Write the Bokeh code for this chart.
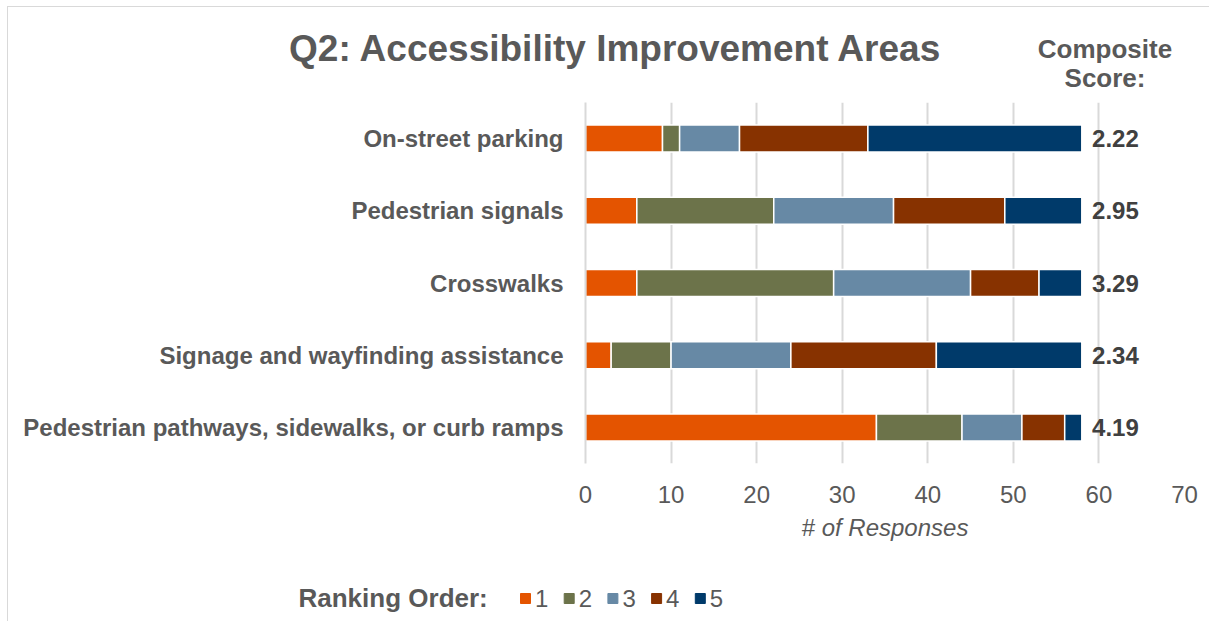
from bokeh.plotting import figure
from bokeh.layouts import column
from bokeh.models import (ColumnDataSource, FactorRange, Range1d, FixedTicker, Label,
                          LabelSet)
from bokeh.core.properties import value
from bokeh.embed import file_html
from bokeh.resources import INLINE

# ---------------- data ----------------
categories = ["On-street parking", "Pedestrian signals", "Crosswalks",
              "Signage and wayfinding assistance",
              "Pedestrian pathways, sidewalks, or curb ramps"]
rank1 = [9, 6, 6, 3, 34]
rank2 = [2, 16, 23, 7, 10]
rank3 = [7, 14, 16, 14, 7]
rank4 = [15, 13, 8, 17, 5]
rank5 = [25, 9, 5, 17, 2]
composite = ["2.22", "2.95", "3.29", "2.34", "4.19"]
rank_labels = ["1", "2", "3", "4", "5"]
colors = ["#E45400", "#6C734A", "#6789A5", "#873200", "#003A6A"]
x_ticks = [0, 10, 20, 30, 40, 50, 60, 70]

FONT = "Liberation Sans"
GREY = "#595959"
OX, OY = 8, 7          # content origin inside the bordered chart area
W = 1201


def blank(y_top, y_bottom):
    f = figure(width=W, height=y_bottom - y_top, output_backend="svg",
               toolbar_location=None,
               x_range=Range1d(OX, OX + W), y_range=Range1d(y_bottom, y_top),
               min_border=0, x_axis_location=None, y_axis_location=None,
               frame_align=False)
    f.grid.visible = False
    f.outline_line_color = None
    f.background_fill_color = "white"
    f.border_fill_color = "white"
    return f


# ---------------- header ----------------
hdr = blank(OY, 102)
hdr.add_layout(Label(x=615.5, y=48, text="Q2: Accessibility Improvement Areas",
                     text_align="center", text_baseline="middle", text_font=FONT,
                     text_font_style="bold", text_font_size="37px", text_color=GREY))
hdr.add_layout(Label(x=1104.5, y=48, text="Composite", text_align="center",
                     text_baseline="middle", text_font=FONT, text_font_style="bold",
                     text_font_size="26px", text_color=GREY))
hdr.add_layout(Label(x=1104.5, y=77, text="Score:", text_align="center",
                     text_baseline="middle", text_font=FONT, text_font_style="bold",
                     text_font_size="26px", text_color=GREY))

# ---------------- main chart ----------------
source = ColumnDataSource(dict(cat=categories, r1=rank1, r2=rank2, r3=rank3,
                               r4=rank4, r5=rank5, comp=composite,
                               comp_x=[59.2] * len(categories)))

p = figure(width=W, height=443, output_backend="svg", toolbar_location=None,
           y_range=FactorRange(factors=list(reversed(categories))),
           x_range=Range1d(0, 70),
           min_border_left=585 - OX, min_border_right=W - (585 - OX) - 599,
           min_border_top=0, min_border_bottom=82, frame_align=False)
p.outline_line_color = None
p.background_fill_color = "white"
p.border_fill_color = "white"

renderers = p.hbar_stack(["r1", "r2", "r3", "r4", "r5"], y="cat", height=0.374,
                         color=colors, line_color="white", line_width=1.5,
                         source=source)

p.ygrid.grid_line_color = None
p.xgrid.grid_line_color = "#d9d9d9"
p.xgrid.grid_line_width = 2
p.xgrid.ticker = FixedTicker(ticks=x_ticks)

xa = p.xaxis[0]
xa.ticker = FixedTicker(ticks=x_ticks)
xa.axis_line_color = None
xa.major_tick_line_color = None
xa.minor_tick_line_color = None
xa.major_tick_out = 0
xa.major_label_standoff = 22
xa.major_label_text_font = FONT
xa.major_label_text_font_size = "24px"
xa.major_label_text_color = GREY
xa.axis_label = "# of Responses"
xa.axis_label_text_font = FONT
xa.axis_label_text_font_style = "italic"
xa.axis_label_text_font_size = "24px"
xa.axis_label_text_color = GREY
xa.axis_label_standoff = 8

ya = p.yaxis[0]
ya.axis_line_color = "#d9d9d9"
ya.axis_line_width = 2
ya.major_tick_line_color = None
ya.minor_tick_line_color = None
ya.major_tick_out = 0
ya.major_label_standoff = 22
ya.major_label_text_font = FONT
ya.major_label_text_font_style = "bold"
ya.major_label_text_font_size = "24px"
ya.major_label_text_color = GREY

p.add_layout(LabelSet(x="comp_x", y="cat", text="comp", source=source,
                      text_align="left", text_baseline="middle",
                      text_font=value(FONT), text_font_style="bold",
                      text_font_size="24px", text_color="#404040"))

# ---------------- footer legend ----------------
ftr = blank(545, 621)
ftr.add_layout(Label(x=298, y=597, text="Ranking Order:", text_align="left",
                     text_baseline="middle", text_font=FONT, text_font_style="bold",
                     text_font_size="26px", text_color=GREY))
n = len(rank_labels)
sq_x = [525 + 43.7 * i for i in range(n)]
leg = ColumnDataSource(dict(x=sq_x, tx=[v + 9.5 for v in sq_x], y=[598] * n,
                            lab=rank_labels, col=colors))
ftr.scatter(x="x", y="y", marker="square", size=10, color="col", source=leg)
ftr.text(x="tx", y="y", text="lab", source=leg, text_align="left",
         text_baseline="middle", text_font=value(FONT), text_font_size="24px",
         text_color=GREY)

layout = column(hdr, p, ftr, spacing=0, margin=(OY - 1, 0, 0, OX - 1),
                styles={"border-left": "1px solid #d9d9d9",
                        "border-top": "1px solid #d9d9d9"})
open("out.html", "w").write(file_html(layout, INLINE))
